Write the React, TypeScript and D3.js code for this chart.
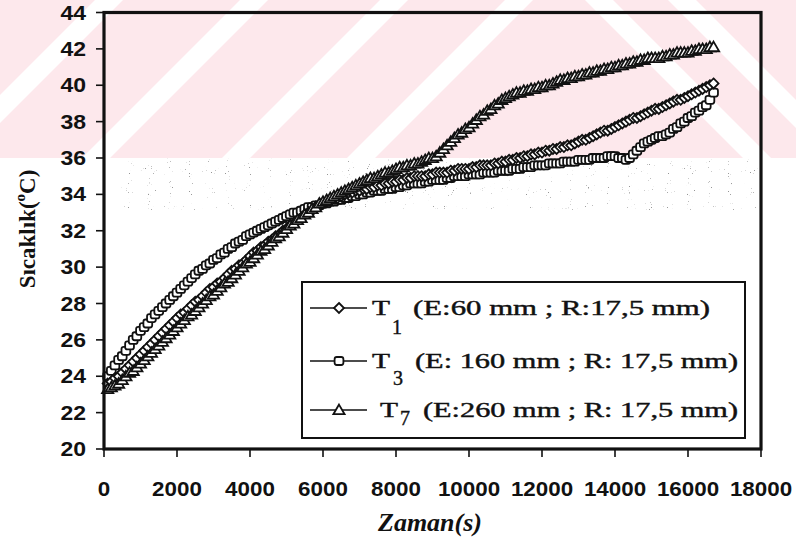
import React from 'react';
import * as d3 from 'd3';

// Measurement times (s)
const TIME_S = [
  100, 200, 300, 400, 500, 600, 700, 800, 900, 1000,
  1100, 1200, 1300, 1400, 1500, 1600, 1700, 1800, 1900, 2000,
  2100, 2200, 2300, 2400, 2500, 2600, 2700, 2800, 2900, 3000,
  3100, 3200, 3300, 3400, 3500, 3600, 3700, 3800, 3900, 4000,
  4100, 4200, 4300, 4400, 4500, 4600, 4700, 4800, 4900, 5000,
  5100, 5200, 5300, 5400, 5500, 5600, 5700, 5800, 5900, 6000,
  6100, 6200, 6300, 6400, 6500, 6600, 6700, 6800, 6900, 7000,
  7100, 7200, 7300, 7400, 7500, 7600, 7700, 7800, 7900, 8000,
  8100, 8200, 8300, 8400, 8500, 8600, 8700, 8800, 8900, 9000,
  9100, 9200, 9300, 9400, 9500, 9600, 9700, 9800, 9900, 10000,
  10100, 10200, 10300, 10400, 10500, 10600, 10700, 10800, 10900, 11000,
  11100, 11200, 11300, 11400, 11500, 11600, 11700, 11800, 11900, 12000,
  12100, 12200, 12300, 12400, 12500, 12600, 12700, 12800, 12900, 13000,
  13100, 13200, 13300, 13400, 13500, 13600, 13700, 13800, 13900, 14000,
  14100, 14200, 14300, 14400, 14500, 14600, 14700, 14800, 14900, 15000,
  15100, 15200, 15300, 15400, 15500, 15600, 15700, 15800, 15900, 16000,
  16100, 16200, 16300, 16400, 16500, 16600, 16700,
];

// T1 (E:60 mm ; R:17,5 mm) temperatures (°C)
const T1_C = [
  23.6, 23.7, 23.9, 24.0, 24.2, 24.4, 24.6, 24.8, 25.0, 25.2,
  25.4, 25.6, 25.8, 26.0, 26.2, 26.4, 26.6, 26.8, 27.0, 27.2,
  27.4, 27.5, 27.7, 27.9, 28.1, 28.2, 28.4, 28.6, 28.8, 28.9,
  29.1, 29.2, 29.4, 29.6, 29.8, 29.9, 30.1, 30.2, 30.4, 30.6,
  30.8, 30.9, 31.1, 31.2, 31.4, 31.5, 31.7, 31.8, 32.0, 32.1,
  32.3, 32.4, 32.6, 32.7, 32.9, 33.0, 33.1, 33.3, 33.4, 33.5,
  33.6, 33.7, 33.8, 33.8, 33.9, 34.0, 34.1, 34.1, 34.2, 34.2,
  34.3, 34.3, 34.4, 34.4, 34.5, 34.5, 34.6, 34.6, 34.7, 34.7,
  34.8, 34.8, 34.9, 34.9, 35.0, 35.0, 35.0, 35.0, 35.1, 35.1,
  35.2, 35.2, 35.2, 35.2, 35.3, 35.3, 35.4, 35.4, 35.4, 35.4,
  35.5, 35.5, 35.6, 35.6, 35.6, 35.6, 35.7, 35.7, 35.8, 35.8,
  35.9, 35.9, 36.0, 36.0, 36.1, 36.1, 36.2, 36.2, 36.3, 36.3,
  36.4, 36.4, 36.5, 36.5, 36.6, 36.6, 36.7, 36.7, 36.8, 36.9,
  37.0, 37.0, 37.1, 37.2, 37.3, 37.4, 37.5, 37.5, 37.6, 37.7,
  37.8, 37.9, 38.0, 38.1, 38.2, 38.2, 38.3, 38.4, 38.5, 38.6,
  38.7, 38.7, 38.8, 38.9, 39.0, 39.1, 39.2, 39.2, 39.3, 39.4,
  39.5, 39.6, 39.7, 39.8, 39.9, 40.0, 40.1,
];

// T3 (E: 160 mm ; R: 17,5 mm) temperatures (°C)
const T3_C = [
  24.0, 24.3, 24.6, 24.9, 25.1, 25.4, 25.7, 26.0, 26.2, 26.5,
  26.7, 26.9, 27.2, 27.4, 27.6, 27.8, 28.0, 28.2, 28.4, 28.6,
  28.8, 29.0, 29.2, 29.4, 29.6, 29.8, 29.9, 30.1, 30.2, 30.4,
  30.5, 30.7, 30.8, 31.0, 31.1, 31.3, 31.4, 31.5, 31.7, 31.8,
  31.9, 32.0, 32.1, 32.2, 32.3, 32.4, 32.5, 32.6, 32.7, 32.8,
  32.9, 33.0, 33.0, 33.1, 33.2, 33.3, 33.3, 33.4, 33.4, 33.5,
  33.5, 33.6, 33.6, 33.7, 33.7, 33.8, 33.8, 33.9, 33.9, 34.0,
  34.0, 34.1, 34.1, 34.2, 34.2, 34.2, 34.3, 34.3, 34.3, 34.4,
  34.4, 34.5, 34.5, 34.6, 34.6, 34.6, 34.6, 34.7, 34.7, 34.8,
  34.8, 34.8, 34.8, 34.9, 34.9, 35.0, 35.0, 35.0, 35.0, 35.1,
  35.1, 35.1, 35.1, 35.2, 35.2, 35.2, 35.2, 35.3, 35.3, 35.3,
  35.3, 35.4, 35.4, 35.4, 35.5, 35.5, 35.5, 35.6, 35.6, 35.6,
  35.6, 35.7, 35.7, 35.7, 35.7, 35.8, 35.8, 35.8, 35.8, 35.9,
  35.9, 35.9, 35.9, 36.0, 36.0, 36.0, 36.0, 36.1, 36.1, 36.1,
  36.0, 36.0, 35.9, 36.0, 36.2, 36.4, 36.6, 36.8, 36.9, 37.0,
  37.1, 37.2, 37.2, 37.3, 37.4, 37.6, 37.7, 37.9, 38.0, 38.2,
  38.3, 38.5, 38.6, 38.8, 38.9, 39.2, 39.6,
];

// T7 (E:260 mm ; R: 17,5 mm) temperatures (°C)
const T7_C = [
  23.3, 23.4, 23.5, 23.6, 23.8, 24.0, 24.2, 24.3, 24.5, 24.7,
  24.9, 25.1, 25.3, 25.5, 25.7, 25.9, 26.1, 26.3, 26.5, 26.7,
  26.9, 27.1, 27.3, 27.4, 27.6, 27.8, 28.0, 28.2, 28.4, 28.5,
  28.7, 28.9, 29.1, 29.2, 29.4, 29.6, 29.8, 30.0, 30.2, 30.3,
  30.5, 30.7, 30.9, 31.0, 31.2, 31.4, 31.6, 31.7, 31.9, 32.1,
  32.3, 32.4, 32.6, 32.7, 32.9, 33.0, 33.2, 33.3, 33.5, 33.6,
  33.7, 33.8, 33.9, 34.0, 34.1, 34.2, 34.3, 34.4, 34.5, 34.6,
  34.7, 34.8, 34.9, 34.9, 35.0, 35.1, 35.2, 35.2, 35.3, 35.4,
  35.5, 35.5, 35.6, 35.6, 35.7, 35.7, 35.8, 35.9, 36.0, 36.0,
  36.1, 36.3, 36.5, 36.7, 36.9, 37.1, 37.3, 37.4, 37.6, 37.7,
  37.9, 38.1, 38.3, 38.4, 38.6, 38.7, 38.9, 39.0, 39.2, 39.3,
  39.4, 39.5, 39.6, 39.6, 39.7, 39.7, 39.8, 39.8, 39.9, 39.9,
  40.0, 40.0, 40.1, 40.2, 40.3, 40.3, 40.4, 40.4, 40.5, 40.5,
  40.6, 40.6, 40.7, 40.7, 40.8, 40.8, 40.9, 40.9, 41.0, 41.0,
  41.1, 41.1, 41.2, 41.2, 41.3, 41.3, 41.4, 41.4, 41.5, 41.5,
  41.5, 41.5, 41.6, 41.6, 41.7, 41.7, 41.8, 41.8, 41.8, 41.8,
  41.9, 41.9, 42.0, 42.0, 42.0, 42.1, 42.1,
];

const X_TICKS = [0, 2000, 4000, 6000, 8000, 10000, 12000, 14000, 16000, 18000];
const Y_TICKS = [20, 22, 24, 26, 28, 30, 32, 34, 36, 38, 40, 42, 44];

const SERIES_SUBS = ['1', '3', '7'];
const SERIES_NOTES = ['(E:60 mm ; R:17,5 mm)', '(E: 160 mm ; R: 17,5 mm)', '(E:260 mm ; R: 17,5 mm)'];
const X_TITLE = 'Zaman(s)';
const Y_TITLE = 'Sıcaklık(';

type MarkerKind = 'diamond' | 'square' | 'triangle';

const INK = '#111';
const SERIF = 'Liberation Serif, Times New Roman, serif';
const SANS = 'Liberation Sans, Arial, sans-serif';

function Marker({ kind, cx, cy }: { kind: MarkerKind; cx: number; cy: number }) {
  const common = { fill: '#fff', stroke: INK, strokeWidth: 1.8 };
  if (kind === 'diamond') {
    return <path d={`M${cx},${cy - 5}L${cx + 5},${cy}L${cx},${cy + 5}L${cx - 5},${cy}Z`} {...common} />;
  }
  if (kind === 'square') {
    return <rect x={cx - 4.4} y={cy - 4} width={8.8} height={8} rx={2.2} {...common} />;
  }
  return <path d={`M${cx},${cy - 5.4}L${cx + 5.6},${cy + 4.2}L${cx - 5.6},${cy + 4.2}Z`} {...common} />;
}

export default function App() {
  const W = 796;
  const H = 542;
  const x = d3.scaleLinear().domain([0, 18000]).range([104, 761]);
  const y = d3.scaleLinear().domain([20, 44]).range([449, 12.5]);

  const series: { values: number[]; marker: MarkerKind }[] = [
    { values: T3_C, marker: 'square' },
    { values: T1_C, marker: 'diamond' },
    { values: T7_C, marker: 'triangle' },
  ];

  const lineGen = d3
    .line<number>()
    .x((_, i) => x(TIME_S[i]))
    .y((d) => y(d));

  // watermark stripes: "/" and "\" white bands over the pink header
  const bandH = 158;
  const slash = [95, 240, 380, 505];
  const backslash = [585, 668];
  const sw = 28;

  const legendRows = [
    { base: 315, tx: 372, subDx: 20, subDy: 19, px: 413, len: 297, kind: 'diamond' as MarkerKind },
    { base: 368, tx: 372, subDx: 21, subDy: 17, px: 415, len: 323, kind: 'square' as MarkerKind },
    { base: 417, tx: 380, subDx: 20, subDy: 8, px: 423, len: 315, kind: 'triangle' as MarkerKind },
  ];

  return (
    <svg
      width={W}
      height={H}
      viewBox={`0 0 ${W} ${H}`}
      style={{ position: 'absolute', left: 0, top: 0, display: 'block', background: '#fff' }}
    >
      <defs>
        <clipPath id="hdr">
          <rect x={0} y={0} width={W} height={bandH} />
        </clipPath>
        <filter id="speckle" x="0" y="0" width="1" height="1">
          <feTurbulence type="fractalNoise" baseFrequency="0.95" numOctaves="1" seed="7" result="n" />
          <feColorMatrix
            in="n"
            type="matrix"
            values="0 0 0 0 0.3  0 0 0 0 0.3  0 0 0 0 0.3  16 0 0 0 -11.3"
          />
        </filter>
      </defs>

      {/* pink header with diagonal white bands */}
      <rect x={0} y={0} width={W} height={bandH} fill="#fde8ec" />
      <g clipPath="url(#hdr)" fill="#fff">
        {slash.map((c) => (
          <polygon key={`s${c}`} points={`${c},0 ${c + sw},0 ${c + sw - bandH},${bandH} ${c - bandH},${bandH}`} />
        ))}
        {backslash.map((c) => (
          <polygon key={`b${c}`} points={`${c},0 ${c + sw},0 ${c + sw + bandH},${bandH} ${c + bandH},${bandH}`} />
        ))}
      </g>

      {/* grainy grey band */}
      <rect x={118} y={bandH} width={642} height={52} fill="#fff" filter="url(#speckle)" />

      {/* series */}
      {series.map((s, si) => (
        <g key={si}>
          <path d={lineGen(s.values) || ''} fill="none" stroke={INK} strokeWidth={1.5} />
          {s.values.map((v, i) => (
            <Marker key={i} kind={s.marker} cx={x(TIME_S[i])} cy={y(v)} />
          ))}
        </g>
      ))}

      {/* frame */}
      <rect x={x(0)} y={y(44)} width={x(18000) - x(0)} height={y(20) - y(44)} fill="none" stroke={INK} strokeWidth={3.2} />

      {/* y axis ticks + labels */}
      {Y_TICKS.map((v) => (
        <g key={`y${v}`}>
          <line x1={96} x2={x(0)} y1={y(v)} y2={y(v)} stroke={INK} strokeWidth={1.6} />
          <text
            transform={`translate(86,${y(v) + 7}) scale(1.15,1)`}
            textAnchor="end"
            fontFamily={SANS}
            fontWeight="bold"
            fontSize={20}
            fill={INK}
          >
            {v}
          </text>
        </g>
      ))}

      {/* x axis ticks + labels */}
      {X_TICKS.map((v) => (
        <g key={`x${v}`}>
          <line x1={x(v)} x2={x(v)} y1={y(20)} y2={y(20) + 8} stroke={INK} strokeWidth={1.6} />
          <text
            transform={`translate(${x(v)},496) scale(1.12,1)`}
            textAnchor="middle"
            fontFamily={SANS}
            fontWeight="bold"
            fontSize={20}
            fill={INK}
          >
            {v}
          </text>
        </g>
      ))}

      {/* axis titles */}
      <text
        x={430}
        y={531}
        textAnchor="middle"
        fontFamily={SERIF}
        fontWeight="bold"
        fontStyle="italic"
        fontSize={26}
        fill={INK}
      >
        {X_TITLE}
      </text>
      <text
        transform="translate(35,229) rotate(-90)"
        textAnchor="middle"
        fontFamily={SERIF}
        fontWeight="bold"
        fontSize={23}
        fill={INK}
      >
        {Y_TITLE}
        <tspan dy={-10} fontSize={15}>o</tspan>
        <tspan dy={10}>C)</tspan>
      </text>

      {/* legend */}
      <rect x={302} y={282} width={443} height={156} fill="#fff" stroke={INK} strokeWidth={2} />
      {legendRows.map((r, i) => (
        <g key={`lg${i}`} fill={INK} stroke={INK} strokeWidth={0.4}>
          <line x1={310} x2={367} y1={r.base - 7} y2={r.base - 7} stroke={INK} strokeWidth={1.6} />
          <Marker kind={r.kind} cx={339} cy={r.base - 7} />
          <text x={r.tx} y={r.base} fontFamily={SERIF} fontSize={20} textLength={18} lengthAdjust="spacingAndGlyphs">
            T
          </text>
          <text x={r.tx + r.subDx} y={r.base + r.subDy} fontFamily={SERIF} fontSize={20}>
            {SERIES_SUBS[i]}
          </text>
          <text x={r.px} y={r.base} fontFamily={SERIF} fontSize={20} textLength={r.len} lengthAdjust="spacingAndGlyphs">
            {SERIES_NOTES[i]}
          </text>
        </g>
      ))}
    </svg>
  );
}
